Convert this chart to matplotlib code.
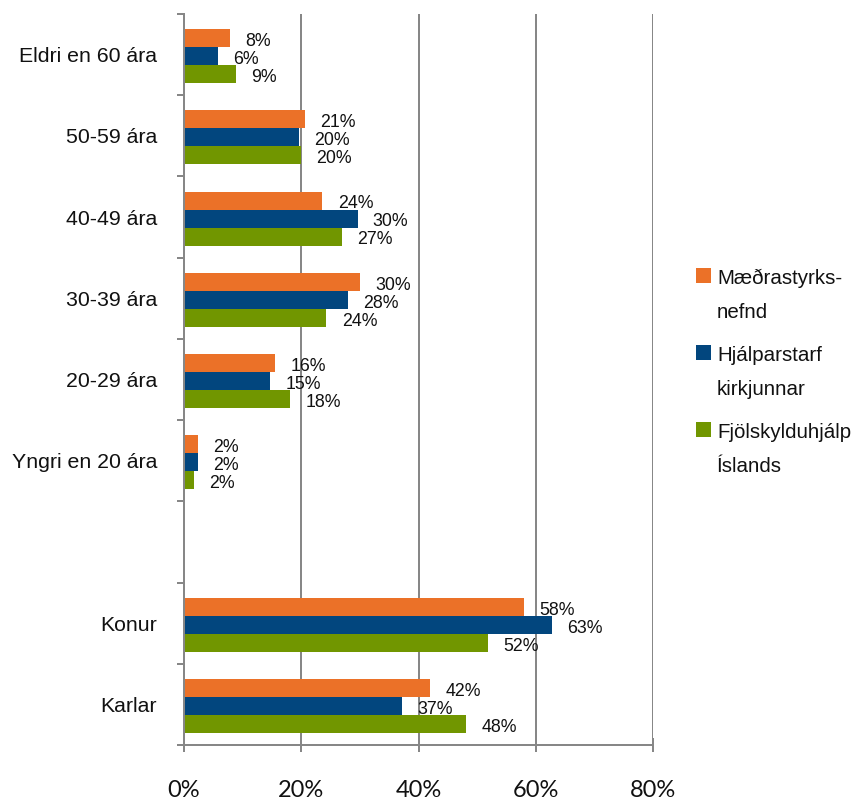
import matplotlib
matplotlib.use("Agg")
import matplotlib.pyplot as plt
import numpy as np
from matplotlib.patches import Rectangle
from matplotlib.legend_handler import HandlerBase

# ---------------- data ----------------
categories = ["Eldri en 60 ára", "50-59 ára", "40-49 ára", "30-39 ára",
              "20-29 ára", "Yngri en 20 ára", "", "Konur", "Karlar"]
series_names = ["Mæðrastyrks-\nnefnd", "Hjálparstarf\nkirkjunnar", "Fjölskylduhjálp\nÍslands"]
maedra = [7.8, 20.6, 23.6, 30.0, 15.6, 2.4, np.nan, 58.0, 42.0]
hjalp = [5.8, 19.6, 29.6, 28.0, 14.7, 2.4, np.nan, 62.7, 37.2]
fjolsk = [8.9, 20.0, 27.0, 24.3, 18.1, 1.7, np.nan, 51.8, 48.1]
xticks = [0, 20, 40, 60, 80]
xtick_labels = ["0%", "20%", "40%", "60%", "80%"]

colors = ["#EB7128", "#02467E", "#719600"]
GRAY = "#878787"
TXT = "#111111"

FAM = ["Liberation Sans", "DejaVu Sans"]
plt.rcParams["font.family"] = FAM

fig = plt.figure(figsize=(8.56, 8.01), dpi=100)
ax = fig.add_axes([184 / 856, 1 - 745 / 801, (653 - 184) / 856, (745 - 14) / 801])

y = np.arange(len(categories))
bh = 18 / 81.2
series = [maedra, hjalp, fjolsk]
for i, (vals, col) in enumerate(zip(series, colors)):
    pos = y + (i - 1) * bh + 0.018
    ax.barh(pos, vals, height=bh, color=col, zorder=3, label=series_names[i])
    for p, v in zip(pos, vals):
        if np.isnan(v):
            continue
        ax.annotate(f"{round(v)}%", xy=(v, p), xytext=(11, -5.7),
                    textcoords="offset points", ha="left", va="baseline",
                    fontsize=12.8, family=FAM, color=TXT, zorder=4)

ax.set_xlim(0, 80)
ax.set_ylim(len(categories) - 0.5, -0.5)

ax.set_xticks(xticks)
ax.set_xticklabels(xtick_labels, family=["Lato", "DejaVu Sans"], fontsize=17)
ax.tick_params(axis="x", direction="inout", length=9.4, width=1.44, color=GRAY,
               pad=20.5, labelcolor=TXT)
ax.grid(axis="x", color=GRAY, linewidth=1.44, zorder=0)

ax.set_yticks(y)
ax.set_yticklabels(categories, fontsize=15.3, family=FAM)
ax.tick_params(axis="y", which="major", length=0, pad=19.4, labelcolor=TXT)
ax.set_yticks(np.arange(-0.5, len(categories), 1.0), minor=True)
ax.tick_params(axis="y", which="minor", direction="out", length=5, width=1.44, color=GRAY)

for s in ["top", "right"]:
    ax.spines[s].set_visible(False)
for s in ["left", "bottom"]:
    ax.spines[s].set_color(GRAY)
    ax.spines[s].set_linewidth(1.44)
    ax.spines[s].set_zorder(5)


class FirstLineSquare(HandlerBase):
    def __init__(self, shift, size, **kw):
        super().__init__(**kw)
        self.shift = shift
        self.size = size

    def create_artists(self, legend, orig_handle, xdescent, ydescent, width,
                       height, fontsize, trans):
        r = Rectangle((-xdescent, self.shift), self.size, self.size,
                      facecolor=orig_handle.patches[0].get_facecolor(),
                      edgecolor="none", transform=trans)
        return [r]


handles, labels = ax.get_legend_handles_labels()
handler = FirstLineSquare(shift=14.6, size=10.8)
leg = fig.legend(handles, labels, loc="upper left",
                 bbox_to_anchor=(696 / 856, 1 - 269 / 801),
                 bbox_transform=fig.transFigure, frameon=False,
                 prop={"family": FAM, "size": 14.8}, borderpad=0,
                 borderaxespad=0, handlelength=0.73, handletextpad=0.29,
                 labelspacing=1.17,
                 handler_map={type(h): handler for h in handles})
for t in leg.get_texts():
    t.set_linespacing(2.0)
    t.set_color(TXT)

fig.savefig("out.png", dpi=100)
